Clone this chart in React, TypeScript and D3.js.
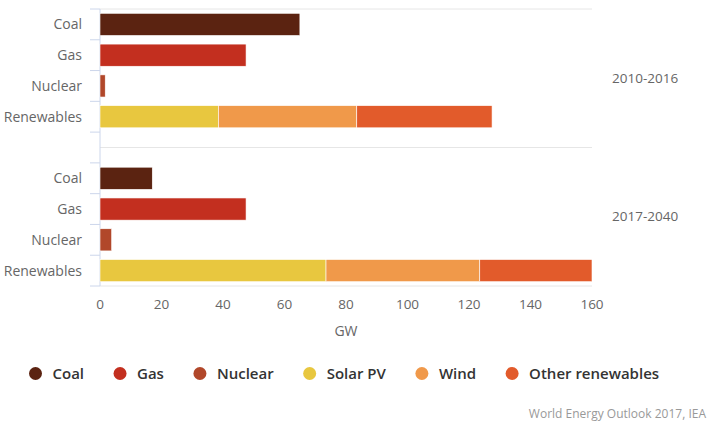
import React from "react";
import * as d3 from "d3";

// Capacity additions, GW
const periods = ["2010-2016", "2017-2040"];
const categories = ["Coal", "Gas", "Nuclear", "Renewables"];
const coal = [65, 17];
const gas = [47.5, 47.5];
const nuclear = [1.7, 3.8];
const solarPV = [38.5, 73.5];
const wind = [45, 50];
const otherRenewables = [44, 36.5];
const xTicks = [0, 20, 40, 60, 80, 100, 120, 140, 160];

const legendNames = ["Coal", "Gas", "Nuclear", "Solar PV", "Wind", "Other renewables"];
const legendColors = ["#5b2311", "#c32f1f", "#b1472a", "#e8c73f", "#f0994a", "#e25b2b"];

const W = 714;
const H = 424;
const FONT = "'Open Sans', 'DejaVu Sans', sans-serif";

function measure(text: string, font: string): number {
  const c = document.createElement("canvas").getContext("2d");
  if (!c) return text.length * 8;
  c.font = font;
  return c.measureText(text).width;
}

export default function App() {
  const x = d3.scaleLinear().domain([0, 160]).range([100, 592]);

  // nine slots: four categories, a spacer, four categories
  const slots: string[] = [];
  periods.forEach((p, i) => {
    if (i > 0) slots.push("gap");
    categories.forEach((c) => slots.push(`${p}|${c}`));
  });
  const y = d3.scaleBand<string>().domain(slots).range([9, 286]).padding(0);
  const barH = y.bandwidth() * 0.72;

  type Seg = { key: string; x0: number; x1: number; color: string; y: number };
  const segs: Seg[] = [];
  periods.forEach((p, i) => {
    const rowY = (c: string) => (y(`${p}|${c}`) as number) + (y.bandwidth() - barH) / 2;
    segs.push({ key: `${p}c`, x0: 0, x1: coal[i], color: legendColors[0], y: rowY("Coal") });
    segs.push({ key: `${p}g`, x0: 0, x1: gas[i], color: legendColors[1], y: rowY("Gas") });
    segs.push({ key: `${p}n`, x0: 0, x1: nuclear[i], color: legendColors[2], y: rowY("Nuclear") });
    const stack = [solarPV[i], wind[i], otherRenewables[i]];
    let acc = 0;
    stack.forEach((v, k) => {
      segs.push({ key: `${p}r${k}`, x0: acc, x1: acc + v, color: legendColors[3 + k], y: rowY("Renewables") });
      acc += v;
    });
  });

  const boundaries = [...slots.map((s) => y(s) as number), 9 + y.step() * slots.length];
  const groupLines = [9, (y("gap") as number) + y.bandwidth() / 2, 286];

  // legend layout
  const legendFont = `600 15px ${FONT}`;
  const legendItems: { name: string; color: string; cx: number }[] = [];
  let lx = 35.5;
  legendNames.forEach((n, i) => {
    legendItems.push({ name: n, color: legendColors[i], cx: lx });
    lx += 17 + measure(n, legendFont) + 36;
  });

  return (
    <svg width={W} height={H} style={{ position: "absolute", left: 0, top: 0, background: "#fff" }} fontFamily={FONT}>
      {groupLines.map((gy, i) => (
        <line key={`gl${i}`} x1={100} x2={592} y1={gy} y2={gy} stroke="#e6e6e6" strokeWidth={1} />
      ))}
      {boundaries.map((b, i) => (
        <line key={`tk${i}`} x1={90} x2={100} y1={b} y2={b} stroke="#ccd6eb" strokeWidth={1} />
      ))}
      <line x1={100} x2={100} y1={9} y2={286} stroke="#ccd6eb" strokeWidth={1} />

      {segs.map((s) => (
        <rect
          key={s.key}
          x={x(s.x0)}
          y={s.y}
          width={Math.max(0, x(s.x1) - x(s.x0))}
          height={barH}
          fill={s.color}
          stroke="#fff"
          strokeWidth={0.6}
        />
      ))}

      {slots
        .filter((s) => s !== "gap")
        .map((s) => (
          <text
            key={`cl${s}`}
            x={82}
            y={(y(s) as number) + y.bandwidth() / 2}
            dy="0.35em"
            textAnchor="end"
            fontSize={14}
            fill="#666"
          >
            {s.split("|")[1]}
          </text>
        ))}

      {periods.map((p, i) => (
        <text
          key={`pl${p}`}
          x={612}
          y={(groupLines[i] + groupLines[i + 1]) / 2}
          dy="0.35em"
          fontSize={13.5}
          fill="#666"
        >
          {p}
        </text>
      ))}

      {xTicks.map((t) => (
        <text key={`xt${t}`} x={x(t)} y={309} textAnchor="middle" fontSize={13.5} fill="#666">
          {t}
        </text>
      ))}
      <text x={(x(0) + x(160)) / 2} y={336} textAnchor="middle" fontSize={14} fill="#666">
        GW
      </text>

      {legendItems.map((it) => (
        <g key={`lg${it.name}`}>
          <circle cx={it.cx} cy={373.5} r={6.5} fill={it.color} />
          <text x={it.cx + 17} y={373.5} dy="0.35em" fontSize={15} fontWeight={600} fill="#333">
            {it.name}
          </text>
        </g>
      ))}

      <text x={706} y={418} textAnchor="end" fontSize={12} fill="#999">
        World Energy Outlook 2017, IEA
      </text>
    </svg>
  );
}
